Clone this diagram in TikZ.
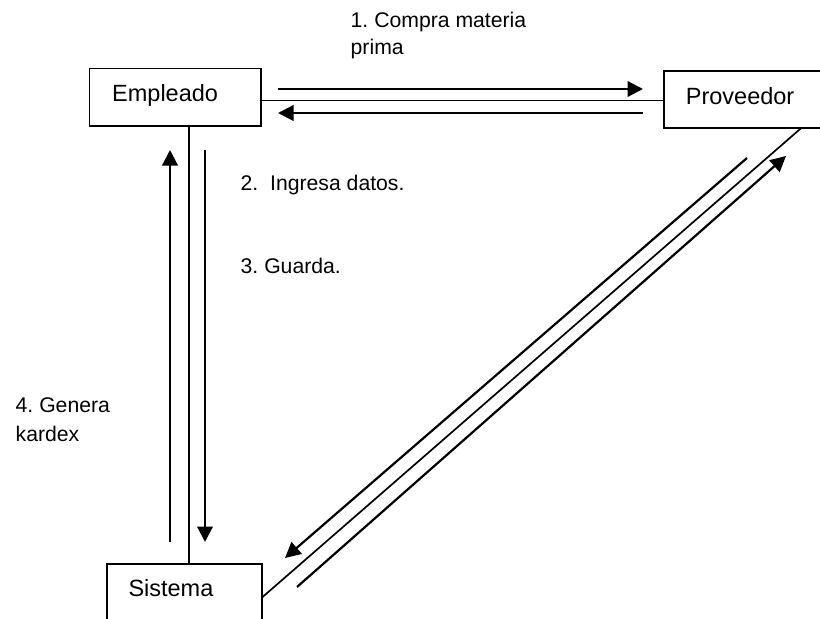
\documentclass[tikz,border=0pt]{standalone}
\usepackage{fontspec}
\setmainfont{Liberation Sans}
\frenchspacing
\usetikzlibrary{arrows.meta}
\tikzset{
  boxnode/.style={draw=black,line width=1.7pt,inner sep=0pt,outer sep=0pt,rectangle},
  linkline/.style={draw=black,line width=1.7pt},
  flow/.style={draw=black,line width=2.2pt,-{Triangle[length=15.5pt,width=15.5pt]}},
  bigtext/.style={anchor=base west,inner sep=0pt,font=\fontsize{23.5}{28}\selectfont},
  smalltext/.style={anchor=base west,inner sep=0pt,font=\fontsize{21.2}{26}\selectfont}
}
\begin{document}
\begin{tikzpicture}[x=1pt,y=-1pt]
\useasboundingbox (0,0) rectangle (820,619);
\node[boxnode,minimum width=171.5pt,minimum height=57.5pt] (empleado) at (175.25,97.25) {};
\node[boxnode,minimum width=274pt,minimum height=57.5pt] (proveedor) at (801,99.5) {};
\node[boxnode,minimum width=155pt,minimum height=67.5pt] (sistema) at (184.5,597.5) {};
\node[bigtext] (templeado) at (112,101.7) {Empleado};
\node[bigtext] (tproveedor) at (685.7,104) {Proveedor};
\node[bigtext] (tsistema) at (128.3,596.7) {Sistema};
\node[smalltext] (t1a) at (350.5,27) {1. Compra materia};
\node[smalltext] (t1b) at (350.5,54.5) {prima};
\node[smalltext] (t2) at (240.5,190) {2.\ \ Ingresa datos.};
\node[smalltext] (t3) at (240.5,273.3) {3. Guarda.};
\node[smalltext] (t4a) at (15.5,412.7) {4. Genera};
\node[smalltext] (t4b) at (15.5,441) {kardex};
% connectors
\path[linkline] (empleado.east |- 0,100.5) -- (proveedor.west |- 0,100.5);
\path[linkline] (empleado.south -| 189,0) -- (sistema.north -| 189,0);
\path[linkline] (sistema.east) -- (proveedor.south);
% flow arrows
\coordinate (a1s) at (278,89);  \coordinate (a1e) at (643,89);
\coordinate (a2s) at (643,113); \coordinate (a2e) at (278,113);
\coordinate (a3s) at (170,542); \coordinate (a3e) at (170,150);
\coordinate (a4s) at (205,150); \coordinate (a4e) at (205,542);
\coordinate (a5s) at (747,158); \coordinate (a5e) at (285,558);
\coordinate (a6s) at (297,587); \coordinate (a6e) at (786,156);
\path[flow] (a1s) -- (a1e);
\path[flow] (a2s) -- (a2e);
\path[flow] (a3s) -- (a3e);
\path[flow] (a4s) -- (a4e);
\path[flow] (a5s) -- (a5e);
\path[flow] (a6s) -- (a6e);
\end{tikzpicture}
\end{document}
